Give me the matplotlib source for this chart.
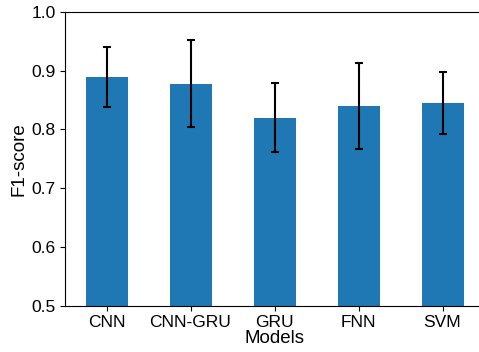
import matplotlib
matplotlib.use("Agg")
import matplotlib.pyplot as plt
import numpy as np

plt.rcParams['font.family'] = ['Liberation Sans', 'DejaVu Sans']

models = ["CNN", "CNN-GRU", "GRU", "FNN", "SVM"]
f1_mean = [0.889, 0.878, 0.820, 0.840, 0.845]
f1_std = [0.051, 0.074, 0.059, 0.073, 0.053]

fig = plt.figure(figsize=(4.79, 3.52), dpi=100)
ax = fig.add_axes([64.5 / 479, 46.5 / 352, 420 / 479, 293.5 / 352])

x = np.arange(len(models))
ax.bar(x, f1_mean, width=0.5, color="#1f77b4",
       yerr=f1_std, error_kw=dict(ecolor="black", elinewidth=1.5, capsize=2.7, capthick=1.5))

ax.set_xlim(-0.5, len(models) - 0.5)
ax.set_ylim(0.5, 1.0)
ax.set_yticks([0.5, 0.6, 0.7, 0.8, 0.9, 1.0])
ax.set_xticks(x)
ax.set_xticklabels(models)
ax.tick_params(axis="both", labelsize=12.5, pad=3)
ax.set_xlabel("Models", fontsize=13.5, labelpad=0)
ax.set_ylabel("F1-score", fontsize=13.5, labelpad=3)

fig.savefig("out.png", dpi=100)
